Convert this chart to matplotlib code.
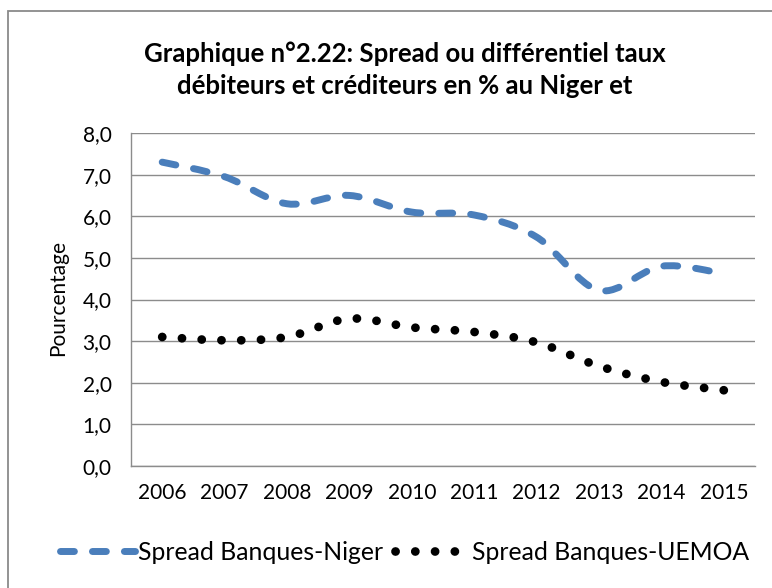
import matplotlib
matplotlib.use("Agg")
import matplotlib.pyplot as plt
from matplotlib.path import Path
from matplotlib.patches import PathPatch, Rectangle
from matplotlib.lines import Line2D
import numpy as np

years = ["2006", "2007", "2008", "2009", "2010", "2011", "2012", "2013", "2014", "2015"]
niger = [7.3, 6.95, 6.3, 6.5, 6.1, 6.03, 5.5, 4.22, 4.8, 4.62]
uemoa = [3.1, 3.02, 3.1, 3.54, 3.33, 3.22, 2.97, 2.4, 2.02, 1.82]
yticks = [0, 1, 2, 3, 4, 5, 6, 7, 8]
title = "Graphique n°2.22: Spread ou différentiel taux\ndébiteurs et créditeurs en % au Niger et"
ylabel = "Pourcentage"
labels = ["Spread Banques-Niger", "Spread Banques-UEMOA"]

BLUE = "#4A7EBB"
GRID = "#8C8C8C"
FONT = "Lato"

plt.rcParams['font.family'] = [FONT, 'DejaVu Sans']

fig = plt.figure(figsize=(7.72, 5.88), dpi=100)
ax = fig.add_axes([131/772, 1-466/588, (755-131)/772, (466-133)/588])


def smooth_path(xs, ys, k=6.0):
    xs = np.asarray(xs, float)
    ys = np.asarray(ys, float)
    n = len(xs)
    verts = [(xs[0], ys[0])]
    codes = [Path.MOVETO]
    for i in range(n - 1):
        p0 = np.array([xs[max(i-1, 0)], ys[max(i-1, 0)]])
        p1 = np.array([xs[i], ys[i]])
        p2 = np.array([xs[i+1], ys[i+1]])
        p3 = np.array([xs[min(i+2, n-1)], ys[min(i+2, n-1)]])
        c1 = p1 + (p2 - p0) / k
        c2 = p2 - (p3 - p1) / k
        verts += [tuple(c1), tuple(c2), tuple(p2)]
        codes += [Path.CURVE4] * 3
    return Path(verts, codes)


x = np.arange(len(years))

dash_style = (0, (2.0, 2.6))
dot_style = (0, (0.01, 2.25))
DOT_LW = 6.3

p1 = PathPatch(smooth_path(x, niger), fill=False, edgecolor=BLUE, lw=5.0,
               linestyle=dash_style, capstyle='round', joinstyle='round', zorder=3)
p2 = PathPatch(smooth_path(x, uemoa), fill=False, edgecolor="black", lw=DOT_LW,
               linestyle=dot_style, capstyle='round', joinstyle='round', zorder=3)
ax.add_patch(p1)
ax.add_patch(p2)

ax.set_xlim(-0.5, len(years) - 0.5)
ax.set_ylim(0, 8)
ax.set_yticks(yticks)
ax.set_yticklabels([f"{v:.1f}".replace(".", ",") for v in yticks])
ax.set_xticks(x)
ax.set_xticklabels(years)
ax.tick_params(axis='both', length=0, labelsize=15, colors='black')
ax.tick_params(axis='y', pad=14)
ax.tick_params(axis='x', pad=12)
ax.yaxis.grid(True, color=GRID, lw=1.0)
ax.set_axisbelow(True)
for s in ['top', 'right']:
    ax.spines[s].set_visible(False)
for s in ['left', 'bottom']:
    ax.spines[s].set_color(GRID)
    ax.spines[s].set_linewidth(1.0)

fig.text(58/772, 1-298/588, ylabel, rotation=90, ha='center', va='center', fontsize=15)

fig.text(405/772, 1-70/588, title, ha='center', va='center', fontsize=18.5,
         fontweight='bold', linespacing=1.42)

h1 = Line2D([], [], color=BLUE, lw=5.0, linestyle=dash_style, dash_capstyle='round')
h2 = Line2D([], [], color='black', lw=DOT_LW, linestyle=dot_style, dash_capstyle='round')
fig.legend([h1, h2], labels, loc='center', bbox_to_anchor=(405/772, 1-552/588),
           ncol=2, frameon=False, fontsize=17.8, handlelength=3.0, handletextpad=0.15,
           columnspacing=0.45, borderaxespad=0)

fig.patches.append(Rectangle((8/772, -0.1), 1.2, 1.1 - 11/588, transform=fig.transFigure,
                             fill=False, edgecolor="#8A8A8A", lw=1.3))

fig.savefig("out.png", dpi=100)
